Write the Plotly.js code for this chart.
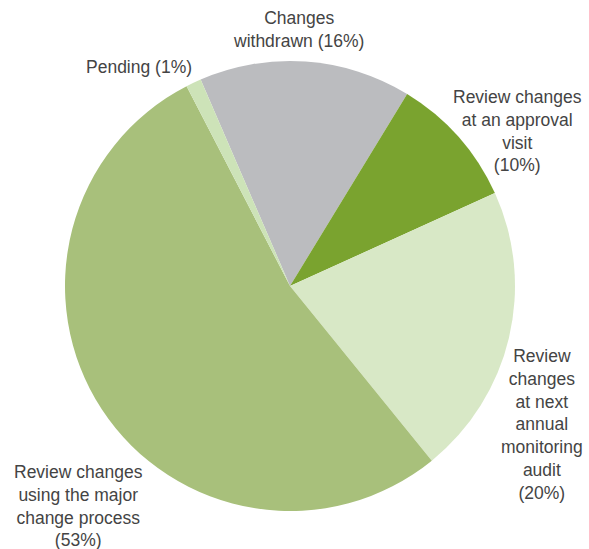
<!DOCTYPE html>
<html>
<head>
<meta charset="utf-8">
<script src="https://cdn.plot.ly/plotly-3.0.1.min.js"></script>
<style>html,body{margin:0;padding:0;background:#fff;}#chart{width:589px;height:549px;}</style>
</head>
<body>
<div id="chart"></div>
<script>
var categories = [
  "Changes withdrawn",
  "Review changes at an approval visit",
  "Review changes at next annual monitoring audit",
  "Review changes using the major change process",
  "Pending"
];
var values = [15.2, 9.5, 20.9, 53.2, 1.1];
var labelTexts = [
  "Changes<br>withdrawn (16%)",
  "Review changes<br>at an approval<br>visit<br>(10%)",
  "Review<br>changes<br>at next<br>annual<br>monitoring<br>audit<br>(20%)",
  "Review changes<br>using the major<br>change process<br>(53%)",
  "Pending (1%)"
];
var colors = ["#bbbcbf", "#7aa32f", "#d8e8c6", "#a8c07b", "#cde3b8"];

// Label placement (pixels, layout only)
var W = 589, H = 549;
var labelPos = [
  [298, 6],
  [517, 85],
  [542, 344],
  [78, 460],
  [139, 55]
];

var annotations = labelTexts.map(function (t, i) {
  return {
    text: t,
    xref: "paper", yref: "paper",
    x: labelPos[i][0] / W, y: 1 - labelPos[i][1] / H,
    xanchor: "center", yanchor: "top",
    showarrow: false, align: "center",
    font: {family: "Liberation Sans, Arial, sans-serif", size: 17.5, color: "#444444"}
  };
});

var trace = {
  type: "pie",
  labels: categories,
  values: values,
  sort: false,
  direction: "clockwise",
  rotation: -23.4,
  marker: {colors: colors, line: {width: 0}},
  textinfo: "none",
  hoverinfo: "label+percent",
  domain: {x: [65 / W, 515 / W], y: [1 - 511 / H, 1 - 61 / H]},
  showlegend: false
};

var layout = {
  width: W, height: H,
  margin: {l: 0, r: 0, t: 0, b: 0},
  paper_bgcolor: "#ffffff",
  plot_bgcolor: "#ffffff",
  showlegend: false,
  annotations: annotations
};

Plotly.newPlot("chart", [trace], layout, {displayModeBar: false, staticPlot: true});
</script>
</body>
</html>
